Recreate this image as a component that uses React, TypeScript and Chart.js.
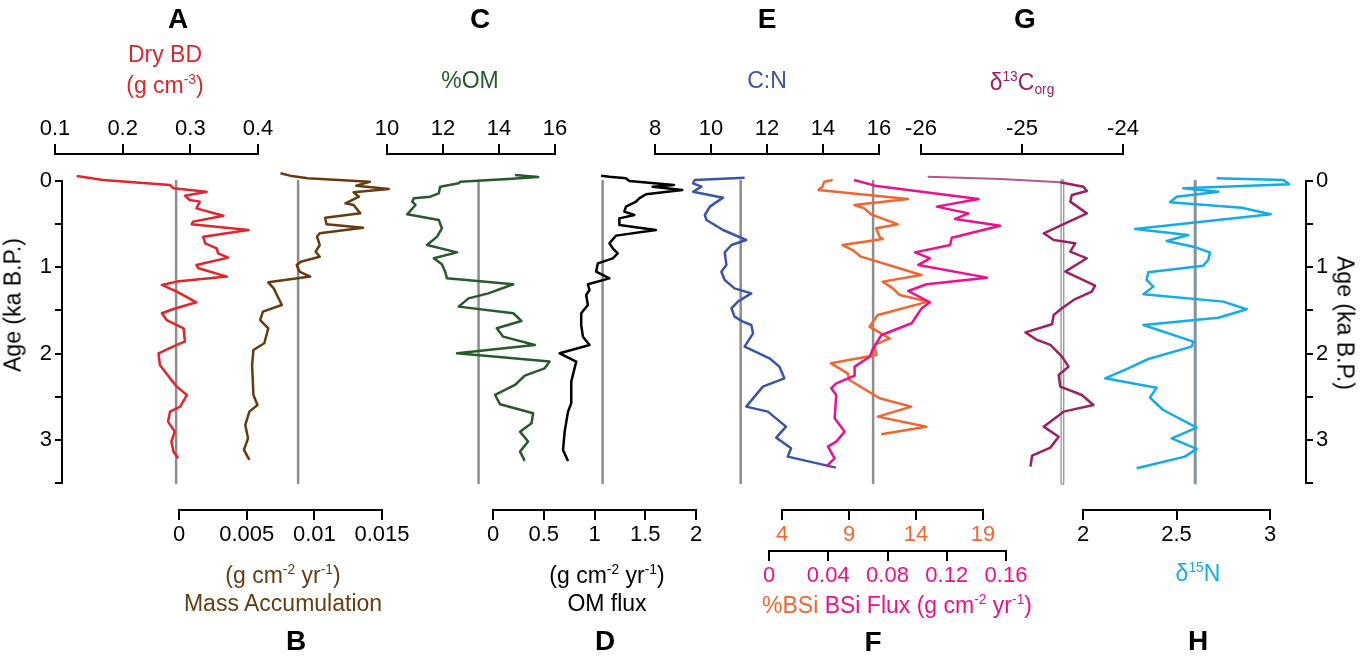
import React, { useEffect, useRef } from 'react';
import { Chart, registerables } from 'chart.js';

Chart.register(...registerables);

const FONT = '"Liberation Sans", Arial, Helvetica, sans-serif';
const W = 1364;
const H = 657;

// ---------- DATA (age in ka B.P.) ----------
const DRYBD_AGE = [-0.058, -0.012, 0.046, 0.085, 0.124, 0.17, 0.22, 0.239, 0.317, 0.402, 0.471, 0.502, 0.568, 0.645, 0.722, 0.78, 0.838, 0.888, 0.973, 1.012, 1.108, 1.166, 1.205, 1.282, 1.406, 1.483, 1.533, 1.611, 1.669, 1.707, 1.862, 1.9, 1.997, 2.132, 2.287, 2.383, 2.48, 2.615, 2.673, 2.789, 2.905, 3.02, 3.136, 3.213];
const DRYBD = [0.132, 0.171, 0.27, 0.275, 0.324, 0.292, 0.299, 0.314, 0.309, 0.349, 0.304, 0.302, 0.386, 0.319, 0.322, 0.339, 0.341, 0.356, 0.309, 0.312, 0.354, 0.28, 0.258, 0.28, 0.309, 0.275, 0.258, 0.265, 0.28, 0.29, 0.292, 0.28, 0.253, 0.255, 0.27, 0.28, 0.295, 0.285, 0.27, 0.267, 0.277, 0.272, 0.275, 0.282];

const MAR_AGE = [-0.089, -0.062, -0.031, 0.008, 0.054, 0.093, 0.131, 0.182, 0.259, 0.278, 0.375, 0.425, 0.502, 0.541, 0.606, 0.645, 0.742, 0.819, 0.877, 0.935, 0.973, 1.051, 1.108, 1.174, 1.244, 1.437, 1.514, 1.611, 1.707, 1.881, 1.958, 2.132, 2.48, 2.596, 2.673, 2.827, 2.982, 3.117, 3.233];
const MAR = [0.0075, 0.0082, 0.0095, 0.0141, 0.0131, 0.0155, 0.0129, 0.0133, 0.0123, 0.0129, 0.0134, 0.0108, 0.0109, 0.0136, 0.0104, 0.0102, 0.0104, 0.0101, 0.0104, 0.009, 0.0087, 0.0089, 0.0097, 0.0066, 0.007, 0.0076, 0.0062, 0.006, 0.0066, 0.0063, 0.0055, 0.0054, 0.0055, 0.0058, 0.0052, 0.0049, 0.0051, 0.0048, 0.0052];

const OM_AGE = [-0.07, -0.046, -0.023, 0.008, 0.027, 0.066, 0.143, 0.182, 0.201, 0.239, 0.278, 0.386, 0.452, 0.548, 0.645, 0.742, 0.827, 0.896, 0.966, 1.051, 1.128, 1.197, 1.302, 1.36, 1.456, 1.533, 1.622, 1.707, 1.804, 1.9, 1.997, 2.093, 2.171, 2.256, 2.364, 2.48, 2.588, 2.692, 2.808, 2.905, 3.02, 3.136, 3.244];
const OM = [14.57, 15.4, 14.33, 12.61, 12.56, 11.9, 11.85, 11.55, 10.96, 10.9, 11.02, 10.72, 11.85, 11.96, 11.79, 11.43, 12.5, 11.67, 11.96, 12.08, 12.14, 14.51, 13.62, 12.91, 12.56, 14.51, 14.8, 13.92, 14.15, 15.28, 12.5, 15.81, 15.63, 14.92, 14.57, 13.86, 14.04, 15.22, 15.16, 14.75, 15.04, 14.75, 14.92];

const OMFLUX_AGE = [-0.062, -0.05, -0.031, 0.0, 0.046, 0.066, 0.104, 0.154, 0.201, 0.239, 0.297, 0.355, 0.394, 0.433, 0.51, 0.568, 0.633, 0.722, 0.78, 0.838, 0.896, 0.954, 1.051, 1.128, 1.197, 1.263, 1.321, 1.437, 1.533, 1.669, 1.804, 1.9, 1.997, 2.093, 2.325, 2.576, 2.673, 2.905, 3.117, 3.244];
const OMFLUX = [1.065, 1.147, 1.31, 1.343, 1.784, 1.572, 1.866, 1.507, 1.441, 1.409, 1.31, 1.294, 1.392, 1.245, 1.245, 1.605, 1.212, 1.147, 1.18, 1.229, 1.18, 1.033, 1.016, 1.147, 0.935, 0.951, 0.918, 0.935, 0.869, 0.869, 0.886, 0.951, 0.657, 0.82, 0.771, 0.771, 0.739, 0.706, 0.69, 0.739];

const CN_AGE = [-0.039, -0.012, 0.027, 0.066, 0.124, 0.193, 0.297, 0.394, 0.452, 0.568, 0.684, 0.742, 0.827, 0.973, 1.051, 1.147, 1.244, 1.302, 1.398, 1.475, 1.572, 1.63, 1.669, 1.765, 1.92, 2.055, 2.151, 2.287, 2.383, 2.615, 2.673, 2.847, 2.974, 3.098, 3.194, 3.322];
const CN = [11.2, 9.42, 9.36, 9.66, 9.36, 10.43, 9.96, 9.78, 9.84, 10.43, 11.26, 10.73, 10.49, 10.55, 10.37, 10.49, 10.84, 11.44, 10.96, 10.73, 10.84, 11.14, 11.44, 11.5, 11.2, 12.09, 12.44, 12.62, 11.85, 11.26, 12.03, 12.68, 12.33, 12.86, 12.74, 14.46];

const BSI_AGE = [-0.012, 0.008, 0.066, 0.104, 0.209, 0.278, 0.317, 0.386, 0.502, 0.548, 0.645, 0.672, 0.742, 0.8, 0.877, 1.089, 1.166, 1.244, 1.321, 1.398, 1.553, 1.688, 1.823, 1.9, 2.016, 2.113, 2.229, 2.306, 2.518, 2.615, 2.731, 2.847, 2.935];
const BSI = [7.78, 7.15, 7.02, 6.72, 13.4, 9.4, 10.15, 10.65, 12.65, 11.03, 11.28, 11.52, 8.52, 9.27, 9.9, 14.4, 11.52, 12.27, 12.78, 14.9, 11.15, 10.53, 12.03, 10.9, 11.03, 7.65, 8.9, 9.03, 11.28, 13.65, 11.15, 14.78, 11.4];

const BSIFLUX_AGE = [-0.012, 0.054, 0.209, 0.297, 0.375, 0.44, 0.518, 0.657, 0.742, 0.827, 0.896, 0.973, 1.12, 1.197, 1.275, 1.406, 1.475, 1.649, 1.785, 1.939, 2.036, 2.151, 2.256, 2.345, 2.403, 2.48, 2.75, 2.905, 3.02, 3.078, 3.214, 3.31];
const BSIFLUX = [0.0574, 0.0714, 0.1415, 0.1132, 0.1347, 0.1256, 0.1561, 0.1234, 0.1223, 0.0985, 0.1087, 0.1008, 0.1471, 0.1064, 0.094, 0.1087, 0.1031, 0.0963, 0.0759, 0.0703, 0.068, 0.0578, 0.0578, 0.0454, 0.042, 0.0454, 0.0443, 0.0511, 0.0454, 0.0398, 0.0443, 0.0386];

const D13C_AGE = [-0.05, -0.023, 0.015, 0.066, 0.116, 0.162, 0.239, 0.375, 0.606, 0.684, 0.722, 0.819, 0.896, 1.051, 1.213, 1.282, 1.379, 1.475, 1.553, 1.661, 1.754, 1.842, 1.9, 2.036, 2.151, 2.248, 2.383, 2.48, 2.596, 2.673, 2.847, 2.963, 3.09, 3.183, 3.31];
const D13C = [-25.934, -25.212, -24.621, -24.391, -24.358, -24.506, -24.522, -24.358, -24.785, -24.686, -24.473, -24.522, -24.358, -24.571, -24.276, -24.309, -24.489, -24.604, -24.686, -24.703, -24.966, -24.851, -24.719, -24.604, -24.539, -24.637, -24.621, -24.407, -24.293, -24.588, -24.785, -24.637, -24.719, -24.9, -24.916];

const D15N_AGE = [-0.031, -0.012, 0.039, 0.085, 0.124, 0.182, 0.247, 0.309, 0.386, 0.556, 0.626, 0.695, 0.761, 0.827, 0.915, 0.981, 1.058, 1.147, 1.224, 1.313, 1.398, 1.487, 1.584, 1.669, 1.862, 1.92, 2.063, 2.171, 2.287, 2.395, 2.511, 2.654, 2.858, 2.982, 3.105, 3.194, 3.329];
const D15N = [2.715, 3.071, 3.103, 2.536, 2.724, 2.501, 2.465, 2.849, 3.004, 2.278, 2.563, 2.447, 2.59, 2.679, 2.67, 2.643, 2.349, 2.34, 2.376, 2.323, 2.75, 2.875, 2.724, 2.323, 2.59, 2.581, 2.349, 2.242, 2.118, 2.394, 2.358, 2.429, 2.608, 2.474, 2.608, 2.545, 2.287];

// mean reference lines
const MEAN_DRYBD = 0.279;
const MEAN_MAR = 0.0088;
const MEAN_OM = 13.27;
const MEAN_OMFLUX = 1.08;
const MEAN_CN = 11.06;
const MEAN_BSI = 10.8;
const MEAN_D13C = -24.6;
const MEAN_D15N = 2.6;

// tick values
const TICKS_DRYBD = [0.1, 0.2, 0.3, 0.4];
const TICKS_MAR = [0, 0.005, 0.01, 0.015];
const TICKS_OM = [10, 12, 14, 16];
const TICKS_OMFLUX = [0, 0.5, 1, 1.5, 2];
const TICKS_CN = [8, 10, 12, 14, 16];
const TICKS_BSI = [4, 9, 14, 19];
const TICKS_BSIFLUX = [0, 0.04, 0.08, 0.12, 0.16];
const TICKS_D13C = [-26, -25, -24];
const TICKS_D15N = [2, 2.5, 3];
const AGE_TICKS = [0, 0.5, 1, 1.5, 2, 2.5, 3, 3.5];
const AGE_LABELS = ['0', '', '1', '', '2', '', '3', ''];

// ---------- LAYOUT ----------
const Y_AGE0 = 181;
const Y_AGE35 = 483;
const pxToAge = (py: number) => ((py - Y_AGE0) / (Y_AGE35 - Y_AGE0)) * 3.5;
const pts = (vals: number[], ages: number[]) => vals.map((v, i) => ({ x: v, y: ages[i] }));
const vline = (m: number) => [{ x: m, y: 0 }, { x: m, y: 3.5 }];

const GRAY = '#8d8d8d';
const C = {
  red: '#e2242b',
  brown: '#663b12',
  green: '#275a2b',
  black: '#000000',
  blue: '#3a55a6',
  orange: '#f26530',
  pink: '#ec118a',
  purple: '#9a2262',
  cyan: '#15ace6',
};

type DS = { data: any[]; color: string; width?: number; segment?: any };
type Spec = {
  min: number; max: number; xl: number; xr: number; pos: 'top' | 'bottom'; axisY: number;
  ticks: number[]; tickColor?: string; fontSize?: number; pad?: number; datasets: DS[];
};

const SPECS: Spec[] = [
  { min: 0.1, max: 0.4, xl: 55, xr: 258, pos: 'top', axisY: 154, ticks: TICKS_DRYBD,
    datasets: [{ data: pts(DRYBD, DRYBD_AGE), color: C.red }, { data: vline(MEAN_DRYBD), color: GRAY }] },
  { min: 0, max: 0.015, xl: 179, xr: 382, pos: 'bottom', axisY: 510, ticks: TICKS_MAR,
    datasets: [{ data: pts(MAR, MAR_AGE), color: C.brown }, { data: vline(MEAN_MAR), color: GRAY }] },
  { min: 10, max: 16, xl: 387, xr: 555, pos: 'top', axisY: 154, ticks: TICKS_OM,
    datasets: [{ data: pts(OM, OM_AGE), color: C.green }, { data: vline(MEAN_OM), color: GRAY }] },
  { min: 0, max: 2, xl: 493, xr: 696, pos: 'bottom', axisY: 510, ticks: TICKS_OMFLUX,
    datasets: [{ data: pts(OMFLUX, OMFLUX_AGE), color: C.black }, { data: vline(MEAN_OMFLUX), color: GRAY }] },
  { min: 8, max: 16, xl: 655, xr: 879, pos: 'top', axisY: 154, ticks: TICKS_CN,
    datasets: [{ data: pts(CN, CN_AGE), color: C.blue }, { data: vline(MEAN_CN), color: GRAY }] },
  { min: 4, max: 19, xl: 782, xr: 983, pos: 'bottom', axisY: 510, ticks: TICKS_BSI, tickColor: C.orange,
    datasets: [{ data: pts(BSI, BSI_AGE), color: C.orange }, { data: vline(MEAN_BSI), color: GRAY }] },
  { min: 0, max: 0.16, xl: 769, xr: 1006, pos: 'bottom', axisY: 551, ticks: TICKS_BSIFLUX, tickColor: C.pink, pad: 2,
    datasets: [{ data: pts(BSIFLUX, BSIFLUX_AGE), color: C.pink }] },
  { min: -26, max: -24, xl: 921, xr: 1123, pos: 'top', axisY: 154, ticks: TICKS_D13C,
    datasets: [
      { data: pts(D13C, D13C_AGE), color: C.purple,
        segment: {
          borderColor: (ctx: any) => (ctx.p0DataIndex < 2 ? 'rgba(154,34,98,0.75)' : undefined),
          borderWidth: (ctx: any) => (ctx.p0DataIndex < 2 ? 2 : undefined),
        } },
      { data: vline(MEAN_D13C), color: '#ffffff', width: 1.2 },
      { data: vline(MEAN_D13C), color: '#9a9a9a', width: 4 },
    ] },
  { min: 2, max: 3, xl: 1083, xr: 1270, pos: 'bottom', axisY: 510, ticks: TICKS_D15N,
    datasets: [{ data: pts(D15N, D15N_AGE), color: C.cyan }, { data: vline(MEAN_D15N), color: '#80939e', width: 3 }] },
];

const AXH = 50;

function dataConfig(spec: Spec): any {
  const isTop = spec.pos === 'top';
  const top = isTop ? spec.axisY : 10;
  const bottom = isTop ? 647 : spec.axisY;
  return {
    type: 'line',
    data: {
      datasets: spec.datasets.map((d) => ({
        data: d.data,
        borderColor: d.color,
        borderWidth: d.width ?? 2.5,
        pointRadius: 0,
        pointHoverRadius: 0,
        fill: false,
        tension: 0,
        clip: false,
        borderJoinStyle: 'round',
        borderCapStyle: 'butt',
        segment: d.segment,
      })),
    },
    options: {
      responsive: false,
      animation: false,
      devicePixelRatio: 1,
      events: [],
      layout: {
        padding: {
          left: spec.xl,
          right: W - spec.xr,
          top: isTop ? spec.axisY - AXH : top,
          bottom: isTop ? H - bottom : H - spec.axisY - AXH,
        },
      },
      plugins: { legend: { display: false }, tooltip: { enabled: false } },
      scales: {
        x: {
          type: 'linear',
          position: spec.pos,
          min: spec.min,
          max: spec.max,
          bounds: 'data',
          afterBuildTicks: (s: any) => { s.ticks = spec.ticks.map((v) => ({ value: v })); },
          afterFit: (s: any) => { s.height = AXH; },
          border: { display: true, color: '#000', width: 2 },
          grid: { display: true, drawOnChartArea: false, drawTicks: true, tickLength: 10, color: '#000', lineWidth: 2 },
          ticks: {
            autoSkip: false, maxRotation: 0, minRotation: 0, padding: spec.pad ?? 2,
            color: spec.tickColor ?? '#000',
            font: { family: FONT, size: spec.fontSize ?? 22 },
            callback: (v: any) => String(v),
          },
        },
        y: { type: 'linear', display: false, reverse: true, bounds: 'data', min: pxToAge(top), max: pxToAge(bottom) },
      },
    },
  };
}

function ageConfig(side: 'left' | 'right'): any {
  const left = side === 'left';
  return {
    type: 'line',
    data: { datasets: [] },
    options: {
      responsive: false,
      animation: false,
      devicePixelRatio: 1,
      events: [],
      layout: { padding: { left: left ? 0 : 300, right: left ? 300 : 0, top: Y_AGE0, bottom: H - Y_AGE35 } },
      plugins: { legend: { display: false }, tooltip: { enabled: false } },
      scales: {
        x: { type: 'linear', display: false, min: 0, max: 1 },
        y: {
          type: 'linear', position: side, reverse: true, min: 0, max: 3.5, bounds: 'data',
          afterBuildTicks: (s: any) => { s.ticks = AGE_TICKS.map((v) => ({ value: v })); },
          afterFit: (s: any) => { s.width = left ? 62 : W - 1306; },
          border: { display: true, color: '#000', width: 2 },
          grid: { display: true, drawOnChartArea: false, drawTicks: true, tickLength: 7, color: '#000', lineWidth: 2 },
          ticks: {
            autoSkip: false, padding: 3, color: '#000',
            font: { family: FONT, size: 22 },
            callback: (_v: any, i: number) => AGE_LABELS[i],
          },
        },
      },
    },
  };
}

const Txt = (p: { x: number; y: number; size?: number; color?: string; bold?: boolean; rotate?: number; children: any }) => (
  <div
    style={{
      position: 'absolute', left: p.x, top: p.y,
      transform: `translate(-50%, -50%) rotate(${p.rotate ?? 0}deg)`,
      fontSize: p.size ?? 23, color: p.color ?? '#000', fontWeight: p.bold ? 700 : 400,
      whiteSpace: 'nowrap', lineHeight: 1, fontFamily: FONT,
    }}
  >
    {p.children}
  </div>
);

const sup: React.CSSProperties = { fontSize: '0.6em', verticalAlign: '0.65em', lineHeight: 0 };
const sub: React.CSSProperties = { fontSize: '0.6em', verticalAlign: '-0.35em', lineHeight: 0 };

export default function App() {
  const refs = useRef<(HTMLCanvasElement | null)[]>([]);

  useEffect(() => {
    const configs = [...SPECS.map(dataConfig), ageConfig('left'), ageConfig('right')];
    const charts = configs.map((cfg, i) => new Chart(refs.current[i] as HTMLCanvasElement, cfg));
    return () => charts.forEach((c) => c.destroy());
  }, []);

  const n = SPECS.length + 2;
  return (
    <div style={{ position: 'fixed', left: 0, top: 0, width: W, height: H, background: '#fff', overflow: 'hidden', fontFamily: FONT }}>
      {Array.from({ length: n }).map((_, i) => (
        <canvas
          key={i}
          ref={(el) => { refs.current[i] = el; }}
          width={W}
          height={H}
          style={{ position: 'absolute', left: 0, top: 0, width: W, height: H }}
        />
      ))}

      {/* panel letters */}
      <Txt x={178} y={19} size={28} bold>A</Txt>
      <Txt x={480} y={19} size={28} bold>C</Txt>
      <Txt x={767} y={19} size={28} bold>E</Txt>
      <Txt x={1025} y={19} size={28} bold>G</Txt>
      <Txt x={296} y={641} size={28} bold>B</Txt>
      <Txt x={605} y={641} size={28} bold>D</Txt>
      <Txt x={873} y={642} size={28} bold>F</Txt>
      <Txt x={1198} y={641} size={28} bold>H</Txt>

      {/* top titles */}
      <Txt x={165} y={54} color={C.red}>Dry BD</Txt>
      <Txt x={165} y={85} color={C.red}>(g cm<span style={sup}>-3</span>)</Txt>
      <Txt x={470} y={80} color={C.green}>%OM</Txt>
      <Txt x={767} y={80} color={C.blue}>C:N</Txt>
      <Txt x={1022} y={82} color={C.purple}>δ<span style={sup}>13</span>C<span style={sub}>org</span></Txt>

      {/* bottom titles */}
      <Txt x={283} y={575} color={C.brown}>(g cm<span style={sup}>-2</span> yr<span style={sup}>-1</span>)</Txt>
      <Txt x={283} y={603} color={C.brown}>Mass Accumulation</Txt>
      <Txt x={607} y={575}>(g cm<span style={sup}>-2</span> yr<span style={sup}>-1</span>)</Txt>
      <Txt x={607} y={603}>OM flux</Txt>
      <Txt x={897} y={605}>
        <span style={{ color: C.orange }}>%BSi </span>
        <span style={{ color: C.pink }}>BSi Flux (g cm<span style={sup}>-2</span> yr<span style={sup}>-1</span>)</span>
      </Txt>
      <Txt x={1198} y={573} color={C.cyan}>δ<span style={sup}>15</span>N</Txt>

      {/* age axis titles */}
      <Txt x={13} y={305} size={23} rotate={-90}>Age (ka B.P.)</Txt>
      <Txt x={1345} y={323} size={23} rotate={90}>Age (ka B.P.)</Txt>
    </div>
  );
}
